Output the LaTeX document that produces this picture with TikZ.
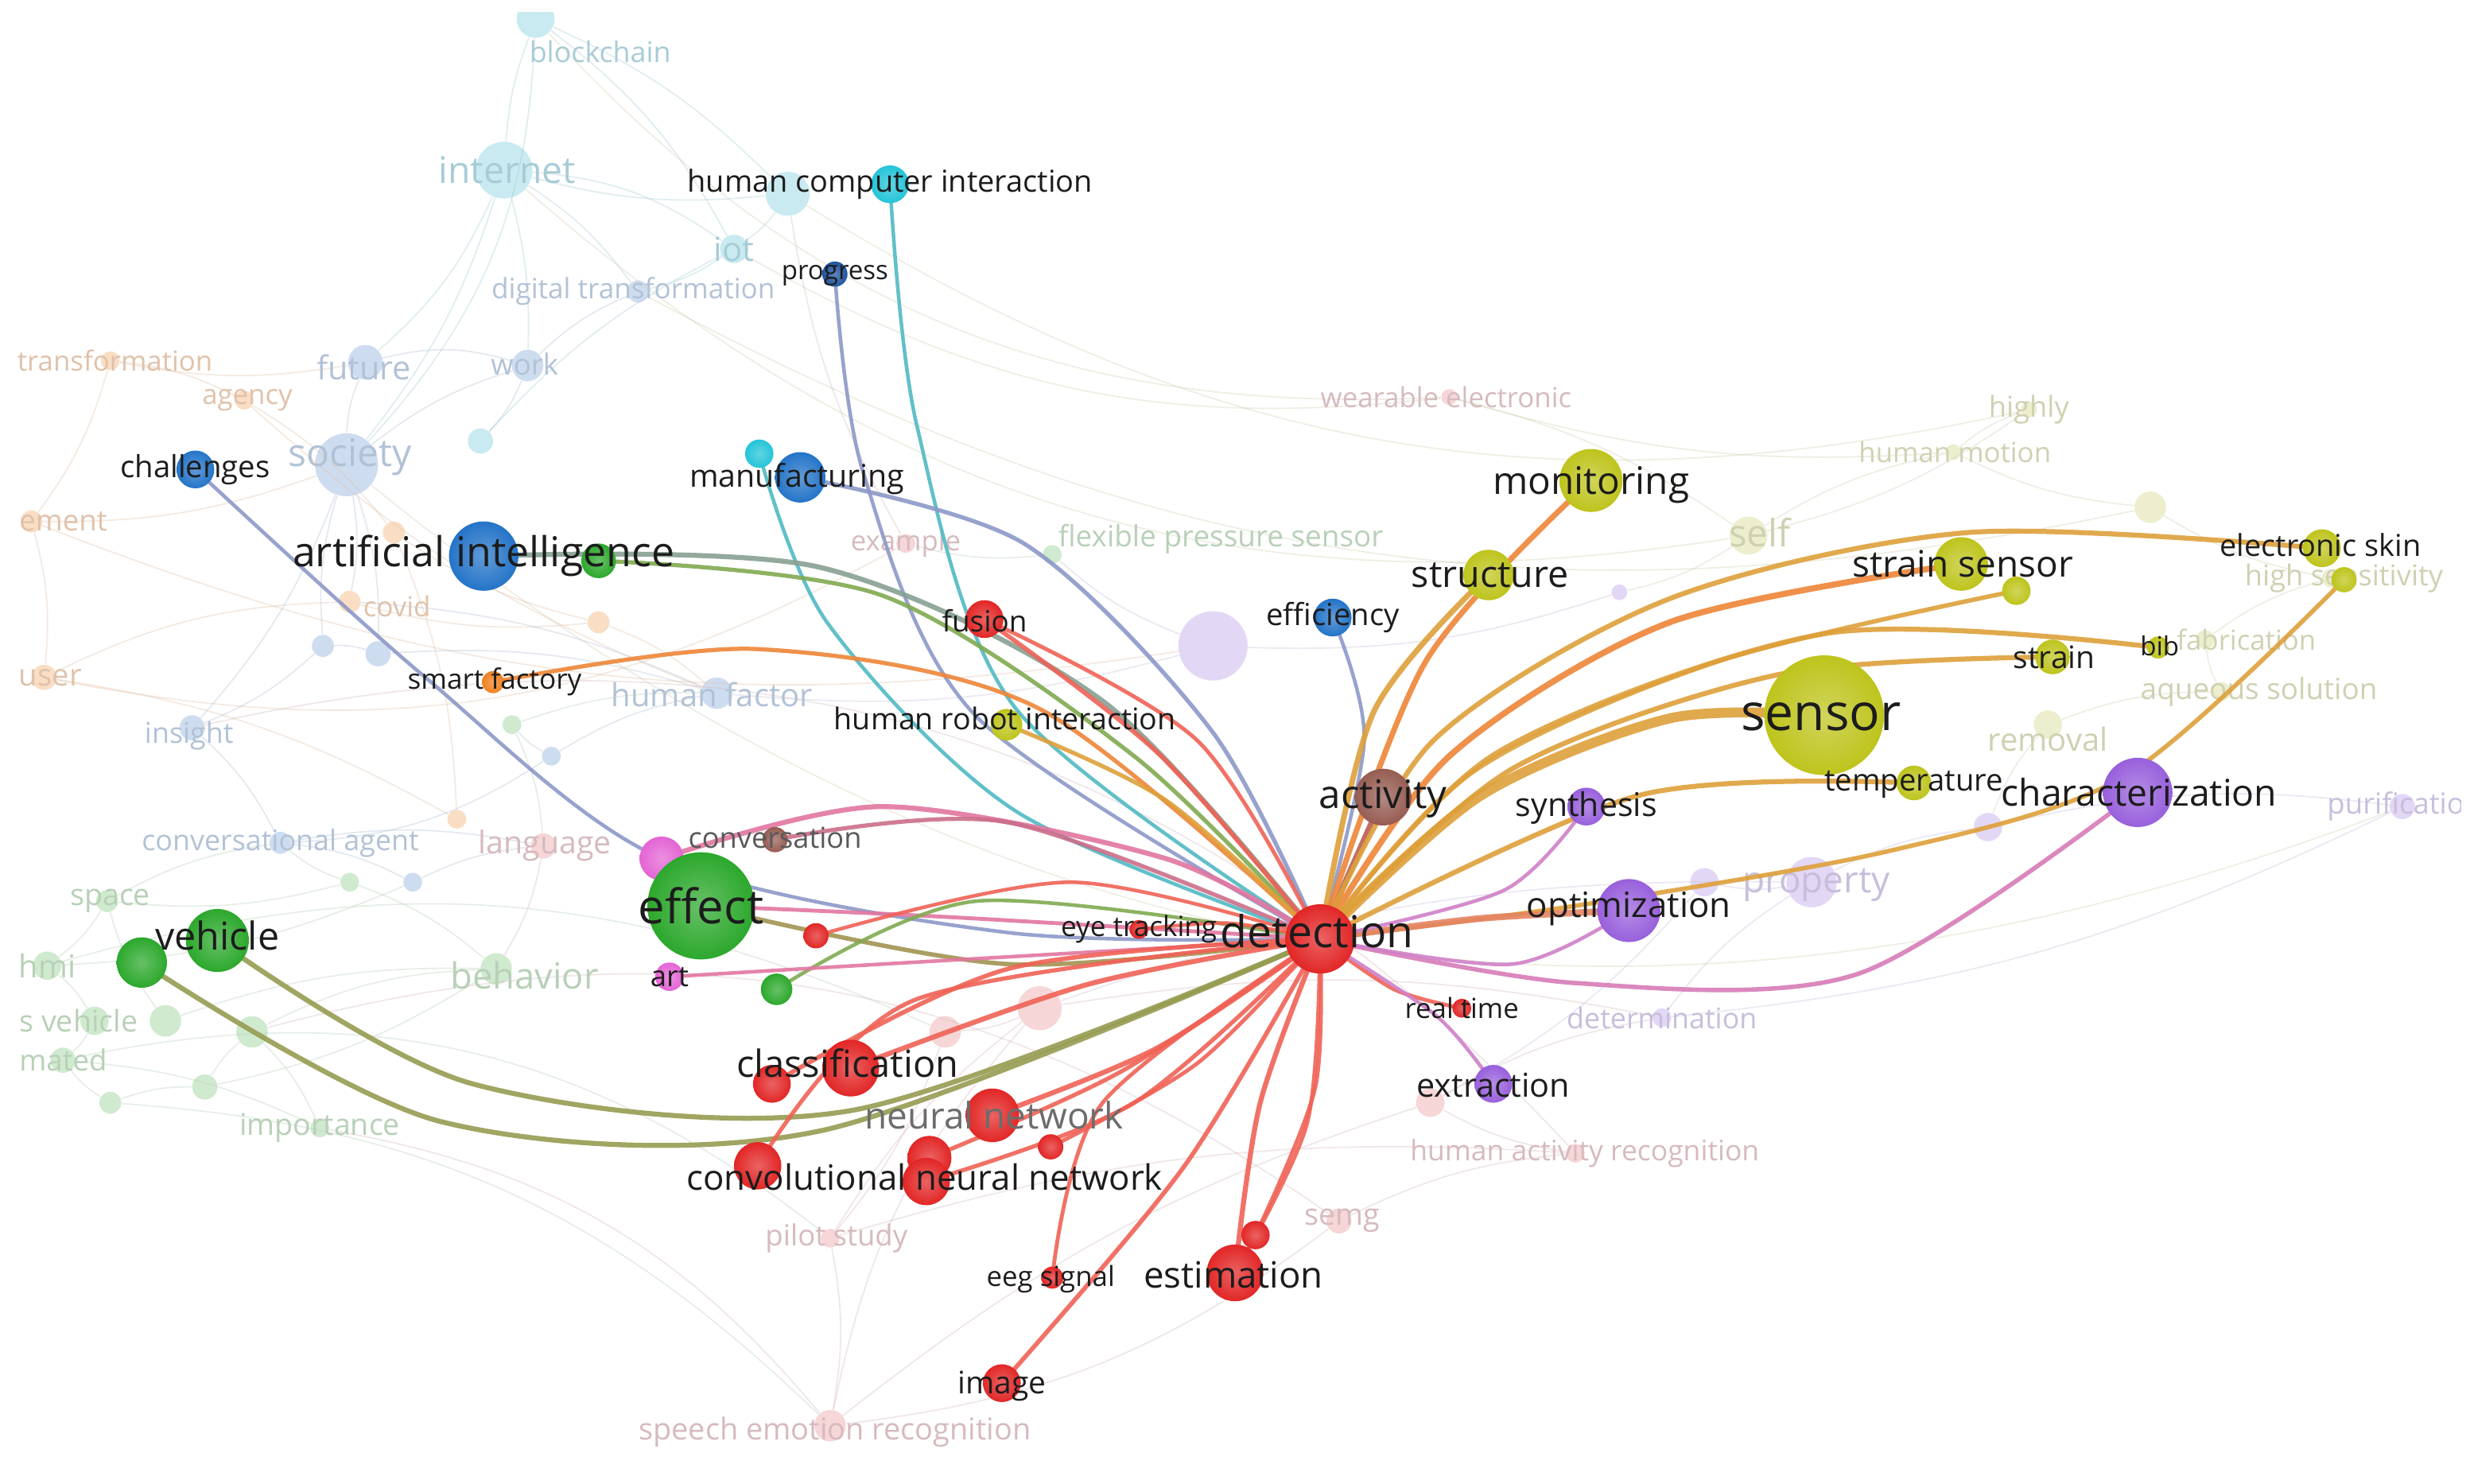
\documentclass[tikz,border=0pt]{standalone}
\usepackage{fontspec}
\setmainfont{Open Sans}
\definecolor{cR}{RGB}{226,38,38}
\definecolor{cG}{RGB}{44,168,44}
\definecolor{cB}{RGB}{36,116,200}
\definecolor{cNv}{RGB}{30,84,160}
\definecolor{cC}{RGB}{36,196,216}
\definecolor{cY}{RGB}{190,196,28}
\definecolor{cP}{RGB}{152,96,220}
\definecolor{cBr}{RGB}{150,92,82}
\definecolor{cPk}{RGB}{228,100,212}
\definecolor{cO}{RGB}{240,128,32}
\definecolor{eR}{RGB}{240,98,86}
\definecolor{eY}{RGB}{222,160,58}
\definecolor{eYg}{RGB}{200,192,52}
\definecolor{eP}{RGB}{208,128,200}
\definecolor{eB}{RGB}{140,152,200}
\definecolor{eC}{RGB}{80,186,196}
\definecolor{eG}{RGB}{128,170,80}
\definecolor{ePk}{RGB}{226,118,160}
\definecolor{eO}{RGB}{238,134,56}
\definecolor{fC}{RGB}{200,234,240}
\definecolor{fB}{RGB}{206,220,240}
\definecolor{fO}{RGB}{250,222,196}
\definecolor{fG}{RGB}{208,234,208}
\definecolor{fR}{RGB}{246,214,214}
\definecolor{fP}{RGB}{226,216,246}
\definecolor{fY}{RGB}{236,238,206}
\definecolor{tC}{RGB}{168,204,214}
\definecolor{tB}{RGB}{178,194,214}
\definecolor{tO}{RGB}{224,194,170}
\definecolor{tG}{RGB}{184,208,184}
\definecolor{tR}{RGB}{214,186,190}
\definecolor{tP}{RGB}{200,190,220}
\definecolor{tY}{RGB}{208,208,178}
\definecolor{tx}{RGB}{28,28,28}
\pgfdeclarelayer{faintL}
\pgfdeclarelayer{edgeL}
\pgfsetlayers{faintL,edgeL,main}
\tikzset{
  faint/.style={line width=0.5pt, opacity=0.35},
  ed/.style={line width=#1, line cap=round, opacity=0.9},
}
\newcommand\fs[1]{\fontsize{#1}{#1}\selectfont}
\newcommand\kw[5]{\node[circle, inner sep=0pt, minimum size=#4*0.04cm, inner color=#5!72!white, outer color=#5] (#1) at (#2,#3) {};}
\newcommand\fk[5]{\node[circle, inner sep=0pt, minimum size=#4*0.04cm, fill=#5] (#1) at (#2,#3) {};}
\newcommand\lb[6]{\node[inner sep=0pt, text=#5, font=\fs{#4}] (#1) at (#2,#3) {#6};}
\newcommand\ce[3]{\draw[#1] plot[smooth] coordinates {#2};}
\begin{document}
\begin{tikzpicture}[x=0.02cm, y=-0.02cm]
\useasboundingbox (0,0) rectangle (1568,942);
\begin{pgfonlayer}{faintL}
\fill[white] (0,0) rectangle (1568,942);
\clip (11,8) rectangle (1562,936);
\fk{fbc}{340}{12}{12}{fC}
\fk{finet}{320}{108}{18}{fC}
\fk{fcy1}{500}{123}{14}{fC}
\fk{fiot}{466}{158}{9}{fC}
\fk{fdt}{405}{185}{7}{fB}
\fk{ftr}{70}{229}{6}{fO}
\fk{fag}{155}{254}{6}{fO}
\fk{ffu}{232}{230}{11}{fB}
\fk{fwo}{335}{232}{10}{fB}
\fk{fso}{220}{295}{20}{fB}
\fk{fcy2}{305}{280}{8}{fC}
\fk{fen}{20}{331}{7}{fO}
\fk{fcov}{222}{382}{7}{fO}
\fk{fus}{28}{430}{8}{fO}
\fk{fin}{122}{462}{8}{fB}
\fk{fhf}{455}{440}{10}{fB}
\fk{fca}{178}{535}{7}{fB}
\fk{fla}{345}{537}{8}{fR}
\fk{fsp}{68}{572}{7}{fG}
\fk{fhmi}{30}{613}{9}{fG}
\fk{fbe}{315}{615}{10}{fG}
\fk{fav}{60}{648}{9}{fG}
\fk{fau}{40}{673}{8}{fG}
\fk{fim}{203}{716}{6}{fG}
\fk{fps}{527}{786}{6}{fR}
\fk{fser}{527}{905}{10}{fR}
\fk{fsemg}{850}{775}{8}{fR}
\fk{fhar}{1000}{732}{6}{fR}
\fk{fdet}{1055}{646}{6}{fP}
\fk{fpr}{1150}{560}{16}{fP}
\fk{frem}{1300}{460}{9}{fY}
\fk{faq}{1410}{439}{6}{fY}
\fk{ffab}{1400}{406}{6}{fY}
\fk{fhs}{1480}{367}{6}{fY}
\fk{fpur}{1525}{512}{8}{fP}
\fk{fhm}{1240}{287}{5}{fY}
\fk{fhi}{1288}{260}{5}{fY}
\fk{fself}{1110}{340}{12}{fY}
\fk{fwe}{920}{252}{5}{fR}
\fk{ffps}{668}{352}{6}{fG}
\fk{fex}{575}{345}{6}{fR}
\fk{flav}{770}{410}{22}{fP}
\fk{fy2}{1365}{322}{10}{fY}
\fk{fp2}{1262}{525}{9}{fP}
\fk{fp3}{1082}{560}{9}{fP}
\fk{fp4}{1028}{376}{5}{fP}
\fk{fr1}{660}{640}{14}{fR}
\fk{fr2}{600}{655}{10}{fR}
\fk{fr3}{908}{700}{9}{fR}
\fk{fg1}{160}{655}{10}{fG}
\fk{fg2}{105}{648}{10}{fG}
\fk{fg3}{262}{560}{6}{fB}
\fk{fg4}{240}{415}{8}{fB}
\fk{fg5}{205}{410}{7}{fB}
\fk{fo1}{250}{338}{7}{fO}
\fk{fo2}{290}{520}{6}{fO}
\fk{fg6}{325}{460}{6}{fG}
\fk{fg7}{222}{560}{6}{fG}
\fk{fg8}{130}{690}{8}{fG}
\fk{fg9}{70}{700}{7}{fG}
\fk{fb9}{350}{480}{6}{fB}
\fk{fo9}{380}{395}{7}{fO}
\foreach \a/\b/\c/\d in {finet/fiot/15/tC, finet/fso/10/tC, finet/ffu/12/tC, finet/fwo/8/tC, finet/fdt/10/tC, finet/fbc/8/tC, fbc/fcy1/10/tC, fbc/fiot/12/tC, finet/fcy1/-10/tC, fcy1/fiot/10/tC, fiot/fdt/10/tC, fbc/fso/20/tC, fso/ffu/10/tB, fso/fwo/10/tB, ffu/fwo/15/tB, fso/fcov/10/tB, fso/fin/10/tB, fso/fg4/10/tB, fwo/fdt/10/tB, fwo/fcy2/10/tB, fcy2/fiot/10/tC, fcov/fhf/10/tB, fg4/fhf/10/tB, fin/fca/10/tB, ftr/fag/10/tO, ftr/fen/10/tO, fen/fus/10/tO, fag/fo1/10/tO, fus/fo2/10/tO, fo1/fo2/10/tO, fus/fcov/12/tO, fca/fla/10/tB, fca/fg3/10/tB, fsp/fca/10/tG, fsp/fhmi/10/tG, fhmi/fav/10/tG, fav/fau/10/tG, fg2/fbe/10/tG, fg1/fbe/12/tG, fg1/fim/10/tG, fau/fim/10/tG, fg2/fsp/10/tG, fg7/fbe/10/tG, fg6/fla/10/tG, fg6/fhf/10/tG, fla/fbe/10/tR, fr1/fr2/10/tR, fr2/fps/10/tR, fps/fser/10/tR, fser/fr1/15/tR, fps/fr1/10/tR, fser/fsemg/-15/tR, fsemg/fhar/10/tR, fhar/fr3/10/tR, fr3/fdet/10/tR, fdet/fpr/10/tP, fpr/fp3/10/tP, fpr/fp2/10/tP, fp2/fpur/10/tP, fp2/frem/10/tY, frem/faq/10/tY, faq/ffab/10/tY, ffab/fhs/10/tY, fhs/fy2/10/tY, fy2/fhm/10/tY, fhm/fhi/10/tY, fhi/fself/10/tY, fself/fhm/10/tY, fself/fp4/10/tY, fp4/flav/10/tP, flav/fhf/10/tP, flav/ffps/10/tP, ffps/fex/10/tG, fex/fcy1/10/tR, fiot/fwe/-18/tY, fcy1/fhi/-22/tY, finet/fself/-25/tY, fdt/fy2/-20/tY, fwe/fself/10/tY, fwe/fhm/-10/tY, fbc/fwe/-25/tY, fso/fpur/-30/tY, fin/fhar/30/tR, fg1/fsemg/25/tR, fim/fser/20/tR, fau/fps/25/tG, fhmi/fr2/20/tG, fen/flav/-15/tO, fus/fex/-20/tO, fag/fhf/-10/tO, fr3/fser/-10/tR, fhar/fps/-10/tR, fdet/fr1/-10/tR, fpr/fr1/-10/tP, fp3/fr3/10/tP, fpur/fdet/10/tP, fg8/fg1/10/tG, fg9/fg8/10/tG, fg9/fau/10/tG, fg8/fbe/-10/tG, fb9/fg6/10/tB, fb9/fhf/10/tB, fo9/fcov/10/tO, fo9/fhf/10/tO, fo9/fo1/10/tO, fb9/fca/15/tB, fg5/fg4/10/tB, fg5/fin/10/tB, fg5/fso/10/tB, fg3/fla/10/tB, fg7/fca/10/tG, fg9/fser/20/tG, fen/fso/-10/tO, ftr/ffu/-10/tO, fhmi/fg3/-10/tG, fsp/fg7/-10/tG}{\draw[faint, \d] (\a) to[bend left=\c] (\b);}
\lb{lbc}{381}{33}{10.3}{tC}{blockchain}
\lb{linet}{322}{108}{13.3}{tC}{internet}
\lb{liot}{466}{158}{12}{tC}{iot}
\lb{ldt}{402}{185}{10.1}{tB}{digital transformation}
\lb{ltr}{73}{229}{10}{tO}{transformation}
\lb{lag}{157}{254}{10}{tO}{agency}
\lb{lfu}{231}{233}{11.9}{tB}{future}
\lb{lwo}{333}{231}{10.5}{tB}{work}
\lb{lso}{222}{290}{13.8}{tB}{society}
\node[inner sep=0pt, text=tO, font=\fs{10.5}, anchor=west] (len) at (12,331) {ement};
\lb{lcov}{252}{385}{10}{tO}{covid}
\lb{lus}{32}{430}{11}{tO}{user}
\lb{lin}{120}{467}{10.3}{tB}{insight}
\lb{lhf}{452}{441}{11.5}{tB}{human factor}
\lb{lca}{178}{535}{10.3}{tB}{conversational agent}
\lb{lla}{346}{537}{11.3}{tR}{language}
\lb{lsp}{70}{572}{10.8}{tG}{space}
\lb{lhmi}{30}{613}{11.4}{tG}{hmi}
\lb{lbe}{333}{619}{13}{tG}{behavior}
\node[inner sep=0pt, text=tG, font=\fs{10.8}, anchor=west] (lav) at (12,648) {s vehicle};
\node[inner sep=0pt, text=tG, font=\fs{10.5}, anchor=west] (lau) at (12,673) {mated};
\lb{limp}{203}{716}{10.8}{tG}{importance}
\lb{lps}{531}{786}{10.5}{tR}{pilot study}
\lb{lser}{530}{909}{10.9}{tR}{speech emotion recognition}
\lb{lsemg}{852}{775}{10.8}{tR}{semg}
\lb{lhar}{1006}{732}{10.2}{tR}{human activity recognition}
\lb{ldet}{1055}{646}{10.3}{tP}{determination}
\lb{lpr}{1153}{562}{13.2}{tP}{property}
\lb{lrem}{1300}{469}{11.5}{tY}{removal}
\lb{laq}{1434}{439}{10.6}{tY}{aqueous solution}
\lb{lfab}{1426}{406}{10}{tY}{fabrication}
\lb{lhs}{1488}{367}{10.4}{tY}{high sensitivity}
\node[inner sep=0pt, text=tP, font=\fs{10.5}, anchor=west] (lpur) at (1477,512) {purificatio};
\lb{lhm}{1241}{287}{10}{tY}{human motion}
\lb{lhi}{1288}{260}{10.4}{tY}{highly}
\lb{lself}{1117}{338}{13.6}{tY}{self}
\lb{lwe}{918}{252}{10}{tR}{wearable electronic}
\lb{lfps}{775}{342}{10.6}{tG}{flexible pressure sensor}
\lb{lex}{575}{345}{10}{tR}{example}
\end{pgfonlayer}
% ---------- highlighted nodes ----------
\kw{det}{838}{596}{22}{cR}
\kw{hci}{565}{117}{12}{cC}
\kw{cy2}{482}{288}{9}{cC}
\kw{prog}{530}{174}{8}{cNv}
\kw{man}{508}{303}{16}{cB}
\kw{chal}{124}{298}{12}{cB}
\kw{ai}{307}{353}{22}{cB}
\kw{gai}{380}{356}{11}{cG}
\kw{effi}{846}{392}{12}{cB}
\kw{sf}{313}{433}{7}{cO}
\kw{fus}{625}{393}{12}{cR}
\kw{hri}{639}{460}{10}{cY}
\kw{pk}{420}{545}{14}{cPk}
\kw{conv}{492}{533}{8}{cBr}
\kw{rs}{518}{594}{8}{cR}
\kw{gs}{493}{628}{10}{cG}
\kw{art}{425}{620}{9}{cPk}
\kw{veh}{138}{597}{20}{cG}
\kw{veh2}{90}{611}{16}{cG}
\kw{cls2}{490}{688}{12}{cR}
\kw{cls}{540}{678}{18}{cR}
\kw{nn}{630}{708}{17}{cR}
\kw{nn2}{667}{728}{8}{cR}
\kw{nn3}{590}{735}{14}{cR}
\kw{nn4}{588}{750}{15}{cR}
\kw{cnn}{481}{740}{15}{cR}
\kw{est2}{797}{784}{9}{cR}
\kw{est}{784}{808}{18}{cR}
\kw{eeg}{668}{811}{7}{cR}
\kw{img}{636}{878}{12}{cR}
\kw{eye}{723}{590}{6}{cR}
\kw{rt}{928}{640}{6}{cR}
\kw{ext}{948}{688}{12}{cP}
\kw{act}{878}{506}{18}{cBr}
\kw{str}{945}{365}{16}{cY}
\kw{mon}{1010}{305}{20}{cY}
\kw{ss}{1245}{358}{17}{cY}
\kw{ss2}{1280}{375}{9}{cY}
\kw{es}{1474}{348}{12}{cY}
\kw{es2}{1488}{368}{8}{cY}
\kw{strain}{1303}{417}{11}{cY}
\kw{bib}{1370}{411}{7}{cY}
\kw{temp}{1215}{497}{11}{cY}
\kw{syn}{1007}{512}{12}{cP}
\kw{opt}{1034}{578}{20}{cP}
\kw{char}{1357}{503}{22}{cP}
\kw{sensor}{1158}{454}{38}{cY}
\kw{effect}{445}{575}{34}{cG}
% ---------- highlighted edges ----------
\begin{pgfonlayer}{edgeL}
\ce{ed=1.3pt, eC}{(hci.center) (582,270) (645,450) (det.center)}{}
\ce{ed=1.3pt, eC}{(cy2.center) (525,395) (645,515) (det.center)}{}
\ce{ed=1.3pt, eB}{(prog.center) (548,300) (620,455) (det.center)}{}
\ce{ed=1.5pt, eB}{(man.center) (650,345) (770,465) (det.center)}{}
\ce{ed=1.3pt, eB}{(chal.center) (270,430) (420,545) (640,592) (det.center)}{}
\ce{ed=1.3pt, eB}{(effi.center) (866,470) (det.center)}{}
\ce{ed=1.8pt, eB!55!eG}{(ai.center) (520,360) (700,445) (det.center)}{}
\ce{ed=1.5pt, eG}{(gai.center) (560,378) (720,480) (det.center)}{}
\ce{ed=1.5pt, eO}{(sf.center) (480,412) (660,450) (det.center)}{}
\ce{ed=1.6pt, eR}{(fus.center) (735,478) (det.center)}{}
\ce{ed=1.4pt, eR}{(fus.center) (760,470) (det.center)}{}
\ce{ed=1.5pt, eY}{(hri.center) (740,508) (det.center)}{}
\ce{ed=1.8pt, ePk}{(pk.center) (560,512) (740,545) (det.center)}{}
\ce{ed=1.5pt, ePk!70!cBr}{(conv.center) (640,522) (det.center)}{}
\ce{ed=1.6pt, eG!70!eR}{(effect.center) (640,612) (det.center)}{}
\ce{ed=1.4pt, ePk}{(effect.center) (600,582) (det.center)}{}
\ce{ed=1.8pt, eG!80!eR}{(veh.center) (300,688) (540,705) (det.center)}{}
\ce{ed=1.8pt, eG!80!eR}{(veh2.center) (280,712) (520,718) (det.center)}{}
\ce{ed=1.3pt, eR}{(rs.center) (680,560) (det.center)}{}
\ce{ed=1.3pt, eG}{(gs.center) (620,572) (det.center)}{}
\ce{ed=1.3pt, ePk}{(art.center) (560,612) (det.center)}{}
\ce{ed=1.8pt, eR}{(cls.center) (690,625) (det.center)}{}
\ce{ed=1.6pt, eR}{(cls2.center) (640,615) (det.center)}{}
\ce{ed=1.8pt, eR}{(nn.center) (735,665) (det.center)}{}
\ce{ed=1.4pt, eR}{(nn2.center) (760,675) (det.center)}{}
\ce{ed=1.5pt, eR}{(nn3.center) (712,680) (det.center)}{}
\ce{ed=1.5pt, eR}{(nn4.center) (720,700) (det.center)}{}
\ce{ed=1.5pt, eR}{(cnn.center) (580,635) (det.center)}{}
\ce{ed=1.8pt, eR}{(est.center) (800,700) (det.center)}{}
\ce{ed=1.4pt, eR}{(est.center) (830,712) (det.center)}{}
\ce{ed=1.4pt, eR}{(est2.center) (835,690) (det.center)}{}
\ce{ed=1.4pt, eR}{(eeg.center) (700,700) (det.center)}{}
\ce{ed=1.6pt, eR}{(img.center) (752,740) (det.center)}{}
\ce{ed=1.3pt, eR}{(eye.center) (780,586) (det.center)}{}
\ce{ed=1.4pt, eR}{(rt.center) (885,628) (det.center)}{}
\ce{ed=1.3pt, eP}{(ext.center) (912,645) (det.center)}{}
\draw[ed=2.2pt, cBr!60!eR] (act.center) -- (det.center);
\ce{ed=2pt, eY}{(str.center) (872,452) (det.center)}{}
\ce{ed=2pt, eO}{(mon.center) (905,420) (det.center)}{}
\ce{ed=2.2pt, eO}{(det.center) (920,480) (1060,395) (ss.center)}{}
\ce{ed=1.6pt, eY}{(det.center) (935,490) (1090,420) (ss2.center)}{}
\ce{ed=1.8pt, eY}{(det.center) (910,470) (1060,380) (1250,338) (es.center)}{}
\ce{ed=1.6pt, eY}{(det.center) (1000,575) (1200,540) (1350,492) (es2.center)}{}
\ce{ed=1.8pt, eY}{(det.center) (960,488) (1130,428) (strain.center)}{}
\ce{ed=1.8pt, eY}{(det.center) (950,478) (1160,402) (bib.center)}{}
\ce{ed=3.6pt, eY}{(det.center) (940,505) (1060,456) (sensor.center)}{}
\ce{ed=1.8pt, eY}{(det.center) (1040,505) (temp.center)}{}
\ce{ed=1.6pt, eP!60!ePk}{(det.center) (1000,624) (1180,618) (char.center)}{}
\ce{ed=2.4pt, eO!70!eP}{(det.center) (940,583) (opt.center)}{}
\ce{ed=1.3pt, eP}{(det.center) (960,612) (opt.center)}{}
\ce{ed=1.3pt, eP}{(det.center) (955,565) (syn.center)}{}
\end{pgfonlayer}
% ---------- highlighted labels ----------
\lb{Ldet}{836}{591}{15.9}{tx}{detection}
\lb{Lsensor}{1156}{455}{18.4}{tx}{sensor}
\lb{Leffect}{445}{575}{17.2}{tx}{effect}
\lb{Lai}{307}{353}{14.9}{tx}{artificial intelligence}
\lb{Lmon}{1010}{308}{13.7}{tx}{monitoring}
\lb{Lchar}{1358}{503}{13.3}{tx}{characterization}
\lb{Lopt}{1034}{577}{12.6}{tx}{optimization}
\lb{Lcls}{538}{675}{13.5}{tx}{classification}
\lb{Lcnn}{587}{747}{12.6}{tx}{convolutional neural network}
\lb{Lnn}{631}{708}{13.2}{gray!85!black}{neural network}
\lb{Lest}{783}{809}{13.1}{tx}{estimation}
\lb{Lveh}{138}{594}{13.9}{tx}{vehicle}
\lb{Lss}{1246}{358}{13.2}{tx}{strain sensor}
\lb{Lstr}{946}{365}{13.4}{tx}{structure}
\lb{Lact}{878}{507}{14.2}{tx}{activity}
\lb{Lsyn}{1007}{513}{11.8}{tx}{synthesis}
\lb{Lext}{948}{689}{11.9}{tx}{extraction}
\lb{Lman}{506}{304}{11.3}{tx}{manufacturing}
\lb{Lchal}{124}{298}{11}{tx}{challenges}
\lb{Lhci}{565}{117}{10.9}{tx}{human computer interaction}
\lb{Lprog}{530}{175}{9.5}{tx}{progress}
\lb{Lfus}{625}{394}{10.6}{tx}{fusion}
\lb{Leffi}{846}{392}{11}{tx}{efficiency}
\lb{Lhri}{638}{456}{10.8}{tx}{human robot interaction}
\lb{Lsf}{314}{433}{10.1}{tx}{smart factory}
\lb{Les}{1473}{346}{10.9}{tx}{electronic skin}
\lb{Lstrain}{1304}{417}{11.2}{tx}{strain}
\lb{Lbib}{1371}{410}{9.5}{tx}{bib}
\lb{Ltemp}{1215}{498}{11}{tx}{temperature}
\lb{Leye}{723}{590}{10.1}{tx}{eye tracking}
\lb{Lrt}{928}{640}{10}{tx}{real time}
\lb{Leeg}{667}{812}{10}{tx}{eeg signal}
\lb{Limg}{636}{880}{11.2}{tx}{image}
\lb{Lconv}{492}{532}{10.4}{gray!70!black}{conversation}
\lb{Lart}{425}{620}{10.5}{tx}{art}
\end{tikzpicture}
\end{document}
